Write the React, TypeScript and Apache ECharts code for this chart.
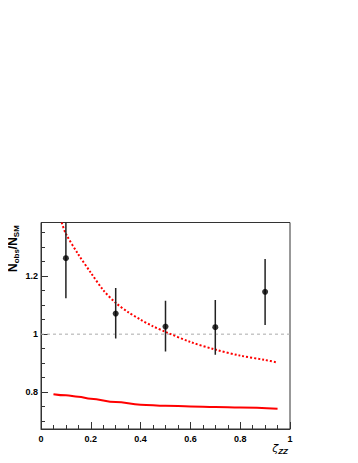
import React, { useEffect, useRef } from "react";
import * as echarts from "echarts";

const pointX = [0.1, 0.3, 0.5, 0.7, 0.9];
const pointY = [1.262, 1.071, 1.026, 1.024, 1.146];
const pointLow = [1.124, 0.985, 0.94, 0.929, 1.032];
const pointHigh = [1.4, 1.159, 1.115, 1.118, 1.259];

const dottedX = [0.083, 0.1, 0.15, 0.2, 0.25, 0.3, 0.35, 0.4, 0.45, 0.5, 0.6, 0.7, 0.8, 0.9, 0.95];
const dottedY = [1.385, 1.346, 1.275, 1.212, 1.152, 1.108, 1.076, 1.05, 1.027, 1.008, 0.973, 0.947, 0.926, 0.911, 0.902];

const solidX = [0.05, 0.1, 0.15, 0.2, 0.3, 0.4, 0.5, 0.6, 0.7, 0.8, 0.95];
const solidY = [0.793, 0.789, 0.784, 0.777, 0.766, 0.757, 0.753, 0.751, 0.749, 0.747, 0.743];

const yMajorTicks = [0.8, 1.0, 1.2];
const yMinorTicks = [0.7, 0.75, 0.85, 0.9, 0.95, 1.05, 1.1, 1.15, 1.25, 1.3, 1.35];
const referenceLevel = 1;

export default function App() {
  const ref = useRef<HTMLDivElement>(null);
  useEffect(() => {
    const chart = echarts.init(ref.current!, null, { renderer: "svg" });
    const font = "Liberation Sans";
    const yMin = 0.673;
    const yMax = 1.385;
    chart.setOption({
      animation: false,
      grid: {
        left: 41,
        right: 68,
        top: 222.5,
        bottom: 34,
        show: true,
        borderColor: "#333",
        borderWidth: 1,
      },
      xAxis: {
        type: "value",
        min: 0,
        max: 1,
        interval: 0.2,
        axisLine: { show: true, lineStyle: { color: "#333", width: 1 } },
        axisTick: { show: true, inside: true, length: 7, lineStyle: { color: "#333" } },
        minorTick: { show: true, splitNumber: 4, length: 4, lineStyle: { color: "#333" } },
        splitLine: { show: false },
        axisLabel: {
          fontFamily: font,
          fontWeight: "bold",
          fontSize: 9,
          color: "#000",
          margin: 5,
          formatter: (v: number) => String(Math.round(v * 10) / 10),
        },
      },
      yAxis: [
        {
          type: "value",
          min: yMin,
          max: yMax,
          axisLine: { show: true, lineStyle: { color: "#333", width: 1 } },
          axisTick: { show: true, inside: true, length: 7, customValues: yMajorTicks, lineStyle: { color: "#333" } },
          splitLine: { show: false },
          axisLabel: {
            customValues: yMajorTicks,
            fontFamily: font,
            fontWeight: "bold",
            fontSize: 9,
            color: "#000",
            margin: 3,
            formatter: (v: number) => String(Math.round(v * 10) / 10),
          },
        },
        {
          type: "value",
          min: yMin,
          max: yMax,
          position: "left",
          axisLine: { show: false },
          axisTick: { show: true, inside: true, length: 4, customValues: yMinorTicks, lineStyle: { color: "#333" } },
          splitLine: { show: false },
          axisLabel: { show: false, customValues: yMinorTicks },
        },
      ],
      graphic: [
        {
          type: "text",
          x: 13,
          y: 272,
          rotation: Math.PI / 2,
          style: {
            text: "{b|N}{s|obs}{b|/N}{s|SM}",
            align: "left",
            verticalAlign: "middle",
            rich: {
              b: { fontFamily: font, fontWeight: "bold", fontSize: 12, fill: "#000" },
              s: { fontFamily: font, fontWeight: "bold", fontSize: 8, fill: "#000", padding: [7, 0, 0, 0] },
            },
          },
        },
        {
          type: "text",
          x: 288,
          y: 448,
          style: {
            text: "{g|ζ}{s|ZZ}",
            align: "right",
            verticalAlign: "middle",
            rich: {
              g: { fontFamily: "DejaVu Sans", fontStyle: "italic", fontSize: 11, fill: "#000" },
              s: { fontFamily: font, fontWeight: "bold", fontStyle: "italic", fontSize: 8, fill: "#000", padding: [6, 0, 0, 0] },
            },
          },
        },
      ],
      series: [
        {
          type: "line",
          data: [
            [0, referenceLevel],
            [1, referenceLevel],
          ],
          symbol: "none",
          lineStyle: { color: "#aaa", width: 1, type: [3, 3] },
          silent: true,
          z: 1,
        },
        {
          type: "line",
          data: dottedX.map((x, i) => [x, dottedY[i]]),
          smooth: 0.3,
          symbol: "none",
          lineStyle: { color: "#ff0000", width: 2, type: [2, 2] },
          z: 2,
        },
        {
          type: "line",
          data: solidX.map((x, i) => [x, solidY[i]]),
          smooth: 0.4,
          smoothMonotone: "x",
          symbol: "none",
          lineStyle: { color: "#ff0000", width: 2 },
          z: 2,
        },
        {
          type: "custom",
          clip: true,
          data: pointX.map((x, i) => [x, pointY[i], pointLow[i], pointHigh[i]]),
          encode: { x: 0, y: [1, 2, 3] },
          renderItem: (params: any, api: any) => {
            const x = api.value(0);
            const lo = api.coord([x, api.value(2)]);
            const hi = api.coord([x, api.value(3)]);
            return {
              type: "line",
              shape: { x1: lo[0], y1: lo[1], x2: hi[0], y2: hi[1] },
              style: { stroke: "#222", lineWidth: 1.5 },
            };
          },
          z: 3,
        },
        {
          type: "scatter",
          data: pointX.map((x, i) => [x, pointY[i]]),
          symbol: "circle",
          symbolSize: 6,
          itemStyle: { color: "#000" },
          z: 4,
        },
      ],
    });
    return () => chart.dispose();
  }, []);
  return <div ref={ref} style={{ width: 358, height: 463, margin: -8 }} />;
}
